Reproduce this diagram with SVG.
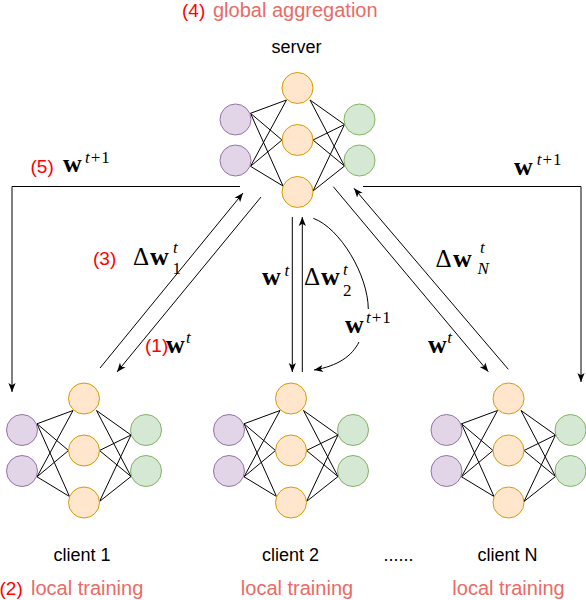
<svg xmlns="http://www.w3.org/2000/svg" width="586" height="600" viewBox="0 0 586 600">
<style>
.o{fill:#ffe6cc;stroke:#d79b00;stroke-width:1}
.p{fill:#e1d5e7;stroke:#9673a6;stroke-width:1}
.g{fill:#d5e8d4;stroke:#82b366;stroke-width:1}
.nl{stroke:#000;stroke-width:1;fill:none}
.c{stroke:#000;stroke-width:1;fill:none}
.ca{stroke:#000;stroke-width:1;fill:none;marker-end:url(#arr)}
.lbl{font-family:"Liberation Sans",Arial,sans-serif;font-size:18px;fill:#000}
.red{font-family:"Liberation Sans",Arial,sans-serif;font-size:19px;fill:#ff0000}
.lr{font-family:"Liberation Sans",Arial,sans-serif;font-size:20px;fill:#ea6b66}
.m{font-family:"Liberation Serif","Times New Roman",serif;font-size:25px;fill:#000}
.w{font-weight:bold;font-size:26px}
.s{font-family:"Liberation Serif","Times New Roman",serif;font-size:17px;fill:#000}
.i{font-style:italic}
</style>
<defs>
<marker id="arr" viewBox="0 0 10 10" refX="10" refY="5" markerWidth="9" markerHeight="9" markerUnits="userSpaceOnUse" orient="auto">
<path d="M0,1 L10,5 L0,9 L2.5,5 z" fill="#000"/>
</marker>
<g id="net">
<path class="nl" d="M-47,25.3 L-11,12 M-47,25.3 L-15.5,52 M-47,25.3 L-14.5,98 M-47,78.3 L-11,12 M-47,78.3 L-15.5,52 M-47,78.3 L-14.5,98 M12.5,12 L47,36.5 M12.5,12 L47,78 M15.5,52 L47,36.5 M15.5,52 L47,78 M15.5,103 L47,36.5 M15.5,103 L47,78"/>
<circle class="o" cx="0" cy="0" r="15.5"/>
<circle class="o" cx="0" cy="52" r="15.5"/>
<circle class="o" cx="0" cy="104" r="15.5"/>
<circle class="p" cx="-62" cy="31.5" r="15.5"/>
<circle class="p" cx="-62" cy="72.5" r="15.5"/>
<circle class="g" cx="62" cy="31.5" r="15.5"/>
<circle class="g" cx="62" cy="72.5" r="15.5"/>
</g>
</defs>

<g id="server">
<use href="#net" transform="translate(297.5,88)"/>
<text class="lbl" x="296.5" y="52.5" text-anchor="middle">server</text>
</g>
<g id="client1">
<use href="#net" transform="translate(84,398.5)"/>
<text class="lbl" x="82" y="560.5" text-anchor="middle">client 1</text>
</g>
<g id="client2">
<use href="#net" transform="translate(291,398.5)"/>
<text class="lbl" x="290.5" y="560.5" text-anchor="middle">client 2</text>
</g>
<g id="clientN">
<use href="#net" transform="translate(508.5,398.5)"/>
<text class="lbl" x="507.5" y="560.5" text-anchor="middle">client N</text>
</g>
<text class="lbl" x="398.5" y="560.5" text-anchor="middle">......</text>

<g id="connectors">
<path class="ca" d="M240,186.5 H12 V392"/>
<path class="ca" d="M363,186.5 H581 V382"/>
<path class="ca" d="M100,368 L243,193"/>
<path class="ca" d="M261,197 L117,372"/>
<path class="ca" d="M292.3,217 V372"/>
<path class="ca" d="M302.3,372 V217"/>
<path class="c" d="M313.3,218.3 C340,228 368,275 368.3,309"/>
<path class="ca" d="M359,342 C352,356 338,366 314,370"/>
<path class="ca" d="M333.3,186.7 L488.3,371.7"/>
<path class="ca" d="M508.3,369.3 L354,188.3"/>
</g>

<g id="labels">
<text class="red" x="182" y="17">(4)</text>
<text class="lr" x="213" y="17">global aggregation</text>
<text class="red" x="-0.5" y="595">(2)</text>
<text class="lr" x="31" y="595">local training</text>
<text class="lr" x="297" y="595" text-anchor="middle">local training</text>
<text class="lr" x="508.5" y="595" text-anchor="middle">local training</text>

<text class="red" x="30.5" y="172.5">(5)</text>
<text class="m w" x="63" y="171.7">w</text>
<text class="s" x="85" y="163.3"><tspan class="i">t</tspan><tspan dx="1">+</tspan><tspan dx="1">1</tspan></text>

<text class="m w" x="514" y="175">w</text>
<text class="s" x="536.7" y="165"><tspan class="i">t</tspan><tspan dx="1">+</tspan><tspan dx="1">1</tspan></text>

<text class="red" x="93" y="265">(3)</text>
<text class="m" x="133" y="265">Δ</text>
<text class="m w" x="150" y="265">w</text>
<text class="s i" x="173" y="253">t</text>
<text class="s" x="172.5" y="273.5">1</text>

<text class="red" x="145" y="352">(1)</text>
<text class="m w" x="166" y="353">w</text>
<text class="s i" x="186" y="342.5">t</text>

<text class="m w" x="262" y="285">w</text>
<text class="s i" x="284.5" y="276">t</text>

<text class="m" x="304" y="285">Δ</text>
<text class="m w" x="321" y="285">w</text>
<text class="s i" x="343" y="275">t</text>
<text class="s" x="343" y="296">2</text>

<text class="m w" x="345" y="333.3">w</text>
<text class="s" x="366" y="323"><tspan class="i">t</tspan><tspan dx="1">+</tspan><tspan dx="1">1</tspan></text>

<text class="m" x="435.5" y="267.3">Δ</text>
<text class="m w" x="453" y="267.3">w</text>
<text class="s i" x="480" y="253">t</text>
<text class="s i" x="477.5" y="273.5">N</text>

<text class="m w" x="428" y="353.3">w</text>
<text class="s i" x="447.3" y="343.3">t</text>
</g>
</svg>
